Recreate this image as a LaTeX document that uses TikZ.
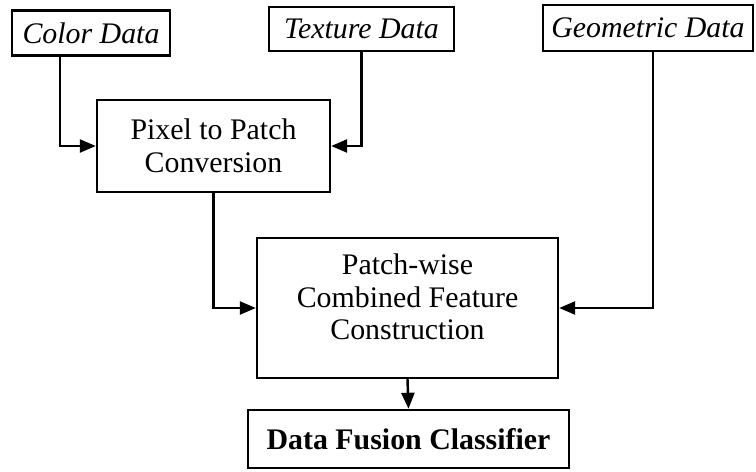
\documentclass[tikz,border=0pt]{standalone}
\usepackage{fontspec}
\setmainfont{Liberation Serif}
\usetikzlibrary{arrows.meta}

\tikzset{
  blk/.style={draw, line width=1.4pt, align=center, inner sep=0pt,
    font=\fontsize{17}{18.5}\selectfont},
  arr/.style={line width=1.4pt, -{Triangle[length=0.32cm,width=0.26cm]}}
}

\begin{document}
\begin{tikzpicture}[x=0.02cm, y=-0.02cm]
  \useasboundingbox (0,0) rectangle (756,471);

  % input data
  \node[blk, minimum width=3.16cm, minimum height=0.9cm] (color) at (91,33) {\itshape Color Data};
  \node[blk, minimum width=3.7cm, minimum height=0.88cm] (texture) at (361.5,29) {\itshape Texture Data};
  \node[blk, minimum width=4.2cm, minimum height=0.92cm] (geometric) at (648,28) {\itshape Geometric Data};

  % processing
  \node[blk, minimum width=4.66cm, minimum height=1.84cm] (pixel) at (213.5,146) {Pixel to Patch\\Conversion};
  \node[blk, minimum width=6.02cm, minimum height=2.8cm, text depth=0.45cm] (combined) at (407.5,308) {Patch-wise\\Combined Feature\\Construction};
  \node[blk, minimum width=6.42cm, minimum height=1.16cm] (classifier) at (408.5,439) {\bfseries Data Fusion Classifier};

  % connectors
  \draw[arr] ([xshift=-0.62cm]color.south) |- (pixel.west);
  \draw[arr] (texture.south) |- (pixel.east);
  \draw[arr] (pixel.south) |- (combined.west);
  \draw[arr] ([xshift=0.1cm]geometric.south) |- (combined.east);
  \draw[arr] (combined.south) -- (classifier.north);
\end{tikzpicture}
\end{document}
